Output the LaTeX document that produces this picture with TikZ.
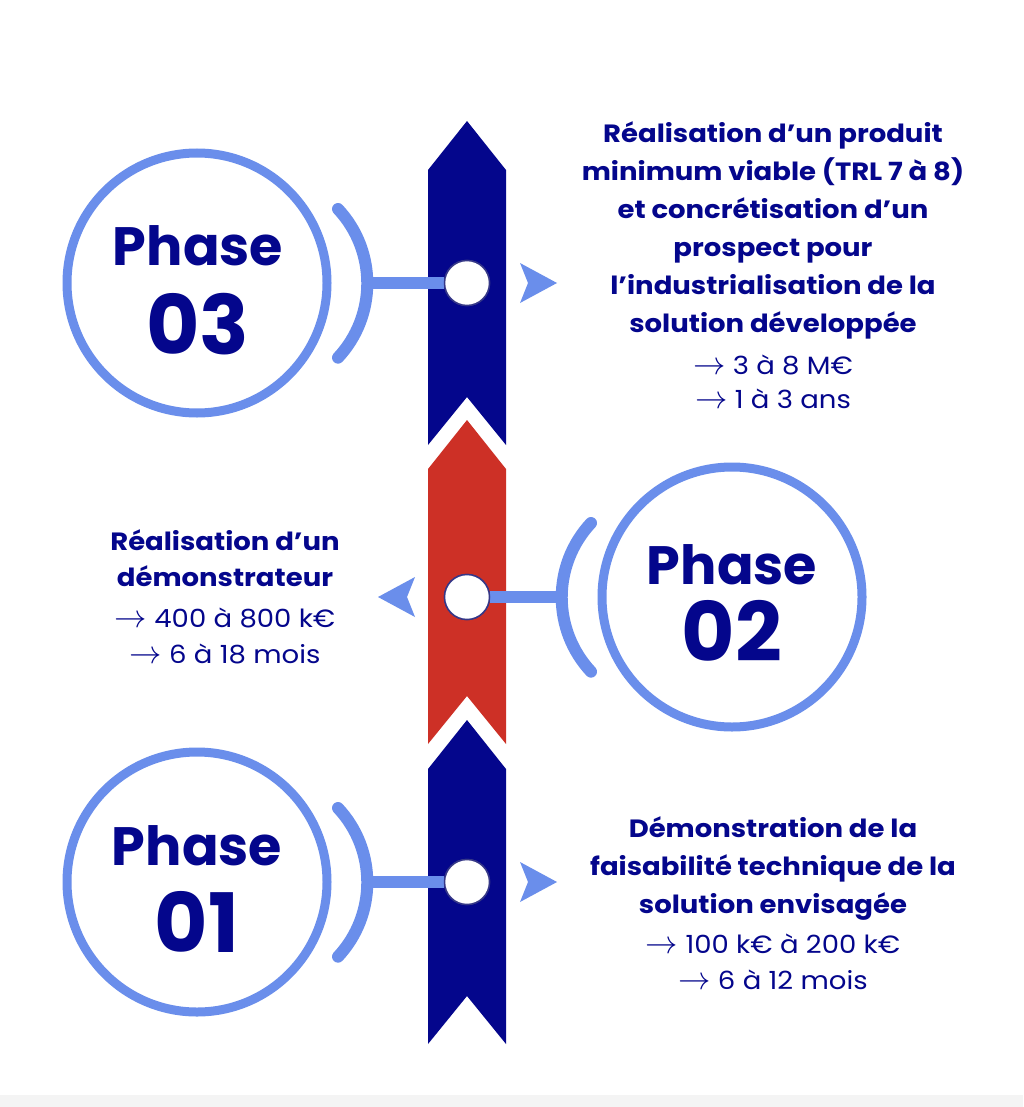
\documentclass[tikz,border=0pt]{standalone}
\usepackage{graphicx}
\usepackage{fontspec}
\setmainfont{Poppins}
\newfontfamily\widefont[FakeStretch=1.1]{Poppins}
\usetikzlibrary{positioning, calc}
\definecolor{navyblue}{RGB}{4,6,140}
\definecolor{flagred}{RGB}{205,48,38}
\definecolor{ringblue}{RGB}{106,142,235}
\definecolor{stripgray}{RGB}{244,244,244}
\newcommand{\arr}{\scalebox{1.3}{$\rightarrow$}}

\begin{document}
\begin{tikzpicture}[x=1pt, y=-1pt,
  ring/.style={circle, draw=ringblue, line width=9pt, minimum size=260pt, inner sep=0pt},
  dot/.style={circle, draw=navyblue!60!gray, line width=1.5pt, fill=white, minimum size=45pt, inner sep=0pt},
  link/.style={draw=ringblue, line width=12pt},
  bow/.style={draw=ringblue, line width=12pt, line cap=round},
  phasetxt/.style={text=navyblue, inner sep=0pt, font=\bfseries\fontsize{54}{54}\selectfont},
  numtxt/.style={text=navyblue, inner sep=0pt, font=\bfseries\fontsize{82}{82}\selectfont},
  goal/.style={text=navyblue, align=center, inner sep=0pt, font=\widefont\bfseries\fontsize{25}{38}\selectfont},
  cost/.style={text=navyblue, align=center, inner sep=0pt, font=\widefont\fontsize{25}{34}\selectfont}]
\useasboundingbox (0,0) rectangle (1023,1107);
\fill[white] (0,0) rectangle (1023,1107);
\fill[stripgray] (0,1095) rectangle (1023,1107);

% ribbon
\foreach \t/\c in {121/navyblue, 420/flagred, 720/navyblue} {
\fill[\c] (428,\t+49) -- (467,\t) -- (506,\t+49) -- (506,\t+324) -- (467,\t+276) -- (428,\t+324) -- cycle;
}

% phase 03
\node[ring] (ring3) at (197,283) {};
\draw[bow] (338,209) arc[start angle=-43, end angle=43, radius=109];
\coordinate (bow3) at (367,283);
\node[dot] (dot3) at (467,283) {};
\draw[link] (bow3) -- (dot3.west);
\node[dot] at (dot3) {};
\fill[ringblue] (520,263) -- (557,283) -- (520,303) -- (528,283) -- cycle;
\node[phasetxt] (phase3) at (198,246) {Phase};
\node[numtxt] (num3) at (198,324) {03};
\node[goal] (goal3) at (773,230) {Réalisation d’un produit\\minimum viable (TRL 7 à 8)\\et concrétisation d’un\\prospect pour\\l’industrialisation de la\\solution développée};
\node[cost] (cost3) at (773,382) {\arr{} 3 à 8 M€\\\arr{} 1 à 3 ans};

% phase 02
\node[ring] (ring2) at (732,597) {};
\draw[bow] (591,523) arc[start angle=223, end angle=137, radius=109];
\coordinate (bow2) at (562,597);
\node[dot] (dot2) at (467,597) {};
\draw[link] (bow2) -- (dot2.east);
\node[dot] at (dot2) {};
\fill[ringblue] (415,577) -- (378,597) -- (415,617) -- (407,597) -- cycle;
\node[phasetxt] (phase2) at (732,565) {Phase};
\node[numtxt] (num2) at (732,631) {02};
\node[goal, font=\widefont\bfseries\fontsize{25}{36}\selectfont] (goal2) at (225,558) {Réalisation d’un\\démonstrateur};
\node[cost, font=\widefont\fontsize{25}{36}\selectfont] (cost2) at (225,636) {\arr{} 400 à 800 k€\\\arr{} 6 à 18 mois};

% phase 01
\node[ring] (ring1) at (197,882) {};
\draw[bow] (338,808) arc[start angle=-43, end angle=43, radius=109];
\coordinate (bow1) at (367,882);
\node[dot] (dot1) at (467,882) {};
\draw[link] (bow1) -- (dot1.west);
\node[dot] at (dot1) {};
\fill[ringblue] (520,862) -- (557,882) -- (520,902) -- (528,882) -- cycle;
\node[phasetxt] (phase1) at (197,846) {Phase};
\node[numtxt] (num1) at (197,922) {01};
\node[goal] (goal1) at (773,869) {Démonstration de la\\faisabilité technique de la\\solution envisagée};
\node[cost, font=\widefont\fontsize{25}{35.5}\selectfont] (cost1) at (773,962) {\arr{} 100 k€ à 200 k€\\\arr{} 6 à 12 mois};
\end{tikzpicture}
\end{document}
